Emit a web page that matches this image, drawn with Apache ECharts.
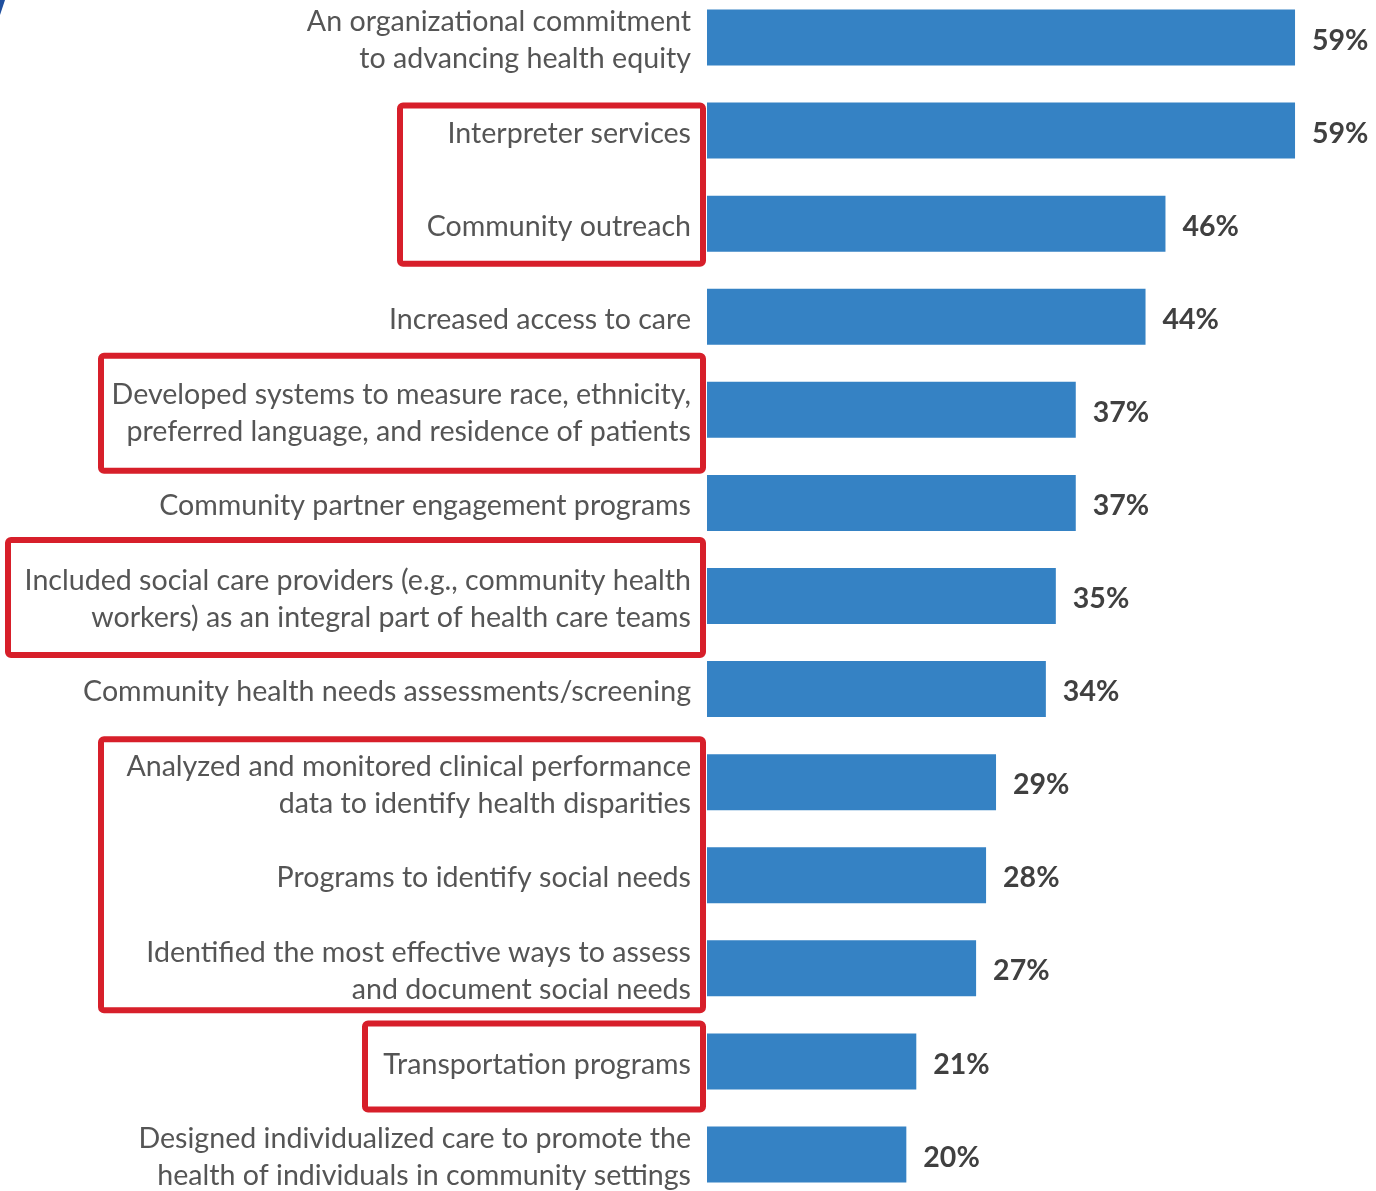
<!DOCTYPE html>
<html>
<head>
<meta charset="utf-8">
<style>
  html, body { margin: 0; padding: 0; background: #ffffff; overflow: hidden; width: 1376px; height: 1191px; }
  /* chart slightly taller than the page so the top and bottom bands bleed off the edges */
  #chart { position: absolute; left: 0; top: -9px; width: 1376px; height: 1210px; }
</style>
<script src="https://cdn.jsdelivr.net/npm/echarts@6/dist/echarts.min.js"></script>
</head>
<body>
<div id="chart"></div>
<script>
// Health equity actions reported by organizations (share of respondents, %)
const categories = [
  'An organizational commitment\nto advancing health equity',
  'Interpreter services',
  'Community outreach',
  'Increased access to care',
  'Developed systems to measure race, ethnicity,\npreferred language, and residence of patients',
  'Community partner engagement programs',
  'Included social care providers (e.g., community health\nworkers) as an integral part of health care teams',
  'Community health needs assessments/screening',
  'Analyzed and monitored clinical performance\ndata to identify health disparities',
  'Programs to identify social needs',
  'Identified the most effective ways to assess\nand document social needs',
  'Transportation programs',
  'Designed individualized care to promote the\nhealth of individuals in community settings'
];
const values = [59, 59, 46, 44, 37, 37, 35, 34, 29, 28, 27, 21, 20];

// Highlighted groups of rows: first and last row index of each group
const highlightFrom = [1, 4, 6, 8, 11];
const highlightTo   = [2, 4, 6, 10, 11];

const chart = echarts.init(document.getElementById('chart'), null, { renderer: 'canvas' });

const FONT = 'Lato, "Noto Sans", sans-serif';

chart.setOption({
  animation: false,
  backgroundColor: '#ffffff',
  grid: { left: 707, right: 71, top: 0, bottom: 0, containLabel: false },
  xAxis: {
    type: 'value', min: 0, max: 60, show: false
  },
  yAxis: {
    type: 'category',
    data: categories,
    inverse: true,
    axisLine: { show: false },
    axisTick: { show: false },
    splitLine: { show: false },
    axisLabel: { show: false }
  },
  series: [{
    // category names, drawn just left of each bar
    type: 'bar',
    data: values,
    barWidth: 56,
    silent: true,
    itemStyle: { color: 'rgba(0,0,0,0)' },
    label: {
      show: true,
      position: 'left',
      distance: 16,
      offset: [0, 3],
      formatter: p => p.name,
      align: 'right',
      color: '#555555',
      fontFamily: FONT,
      fontSize: 28.6,
      lineHeight: 37
    }
  }, {
    type: 'bar',
    data: values,
    barWidth: 56,
    barGap: '-100%',
    itemStyle: { color: '#3582c4' },
    label: {
      show: true,
      position: 'right',
      distance: 17,
      offset: [0, 3],
      formatter: '{c}%',
      color: '#404040',
      fontFamily: FONT,
      fontWeight: 'bold',
      fontSize: 28.5
    }
  }]
});

// Red outline boxes around highlighted label groups, placed from the category scale
const boxLeft = [397, 98, 5, 98, 362];
const boxPadTop = [28, 57, 59, 46, 41];
const boxPadBottom = [43, 64, 62, 45, 51];
const boxRight = 706;
const stroke = 6;
const graphics = highlightFrom.map((from, i) => {
  const yTop = chart.convertToPixel({ yAxisIndex: 0 }, categories[from]) - boxPadTop[i];
  const yBot = chart.convertToPixel({ yAxisIndex: 0 }, categories[highlightTo[i]]) + boxPadBottom[i];
  return {
    type: 'rect',
    shape: {
      x: boxLeft[i] + stroke / 2,
      y: yTop + stroke / 2,
      width: boxRight - boxLeft[i] - stroke,
      height: yBot - yTop - stroke,
      r: 3
    },
    style: { fill: 'none', stroke: '#d71f2a', lineWidth: stroke },
    z: 100
  };
});
// small navy sliver at the top-left corner
graphics.push({
  type: 'polygon',
  shape: { points: [[0, 9], [5, 9], [0, 24]] },
  style: { fill: '#1f4f9e' },
  z: 100
});
chart.setOption({ graphic: graphics });
</script>
</body>
</html>
